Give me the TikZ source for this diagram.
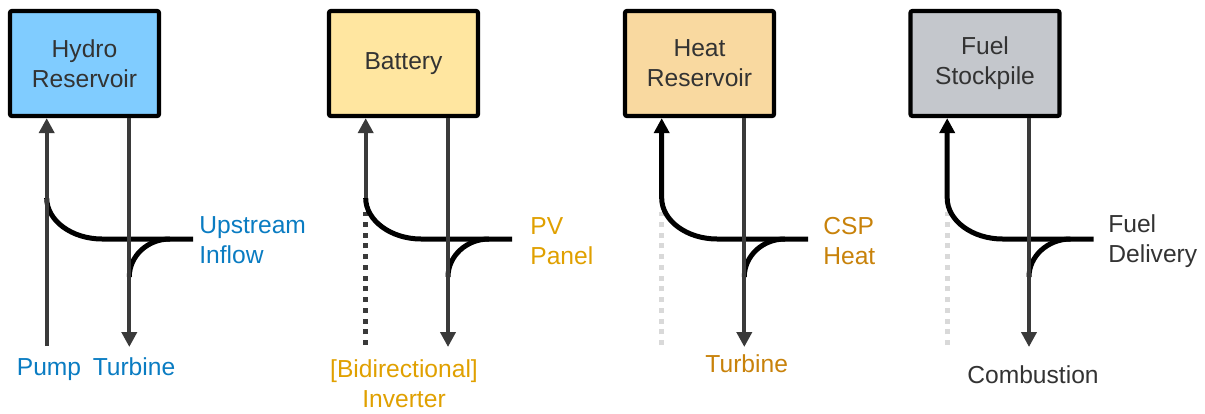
\documentclass[tikz,border=0pt]{standalone}
\usepackage{fontspec}
\setmainfont{Liberation Sans}
\usetikzlibrary{arrows.meta, positioning}
\definecolor{hydroblue}{RGB}{128,204,255}
\definecolor{battyellow}{RGB}{255,230,160}
\definecolor{heatorange}{RGB}{249,217,160}
\definecolor{fuelgray}{RGB}{196,199,204}
\definecolor{flowgray}{RGB}{58,58,58}
\definecolor{dotgray}{RGB}{217,217,217}
\definecolor{hydrotext}{RGB}{10,124,194}
\definecolor{pvtext}{RGB}{224,160,0}
\definecolor{csptext}{RGB}{200,130,10}
\definecolor{darktext}{RGB}{51,51,51}

\begin{document}
\begin{tikzpicture}[
    x=0.02cm, y=-0.02cm,
    store/.style={rectangle, draw=black, line width=0.085cm, rounded corners=0.04cm,
                minimum width=2.98cm, minimum height=2.1cm, align=center,
                font=\fontsize{14}{17}\selectfont, text=darktext},
    flow/.style={-{Triangle[length=0.3cm, width=0.3cm]}, line width=0.08cm, flowgray},
    blackflow/.style={-{Triangle[length=0.3cm, width=0.3cm]}, line width=0.1cm, black},
    merge/.style={line width=0.1cm, black},
    offline/.style={line width=0.1cm, dash pattern=on 0.1cm off 0.115cm},
    sidelabel/.style={anchor=west, align=left, inner sep=0pt, font=\fontsize{14}{17}\selectfont},
    flowlabel/.style={anchor=base, align=center, inner sep=0pt, font=\fontsize{14}{17}\selectfont}
]
\useasboundingbox (0,0) rectangle (1205,413);

% hydro
\node[store, fill=hydroblue] (hydro) at (84.5,63.5) {Hydro\\Reservoir};
\coordinate (hydro-pump) at (46.7,346);
\coordinate (hydro-split) at (46.7,198);
\coordinate (hydro-join) at (129.3,277);
\coordinate (hydro-inflow) at (193,239);
\coordinate (hydro-turbine) at (129.3,347);
\draw[merge] (hydro-split) .. controls (46.7,220.5) and (71.7,239) .. (102,239) -- (hydro-inflow);
\draw[merge] (170,239) .. controls (147.5,239) and (129.3,256) .. (hydro-join);
\draw[flow] (hydro-pump) -- (hydro-pump |- hydro.south);
\draw[flow] (hydro-turbine |- hydro.south) -- (hydro-turbine);
\node[sidelabel, text=hydrotext] (inflow) at (199,240) {Upstream\\Inflow};
\node[flowlabel, text=hydrotext] (pump) at (49,375) {Pump};
\node[flowlabel, text=hydrotext] (turbine) at (134,375) {Turbine};

% battery
\node[store, fill=battyellow] (battery) at (403.5,63.5) {Battery};
\coordinate (battery-inv) at (365.7,345);
\coordinate (battery-split) at (365.7,198);
\coordinate (battery-join) at (448,277);
\coordinate (battery-pv) at (512,239);
\coordinate (battery-out) at (448,347);
\draw[offline, flowgray] (battery-inv) -- (365.7,212);
\draw[merge] (battery-split) .. controls (365.7,220.5) and (391,239) .. (421,239) -- (battery-pv);
\draw[merge] (489,239) .. controls (466.5,239) and (448,256) .. (battery-join);
\draw[flow] (battery-split) -- (battery-split |- battery.south);
\draw[flow] (battery-out |- battery.south) -- (battery-out);
\node[sidelabel, text=pvtext] (pv) at (530,241) {PV\\Panel};
\node[align=center, inner sep=0pt, font=\fontsize{14}{17}\selectfont, text=pvtext] (inverter) at (404,384) {[Bidirectional]\\Inverter};

% heat
\node[store, fill=heatorange] (heat) at (699.5,63.5) {Heat\\Reservoir};
\coordinate (heat-idle) at (661.7,345);
\coordinate (heat-split) at (661.7,198);
\coordinate (heat-join) at (744.3,277);
\coordinate (heat-csp) at (808,239);
\coordinate (heat-turbine) at (744.3,347);
\draw[offline, dotgray] (heat-idle) -- (661.7,212);
\draw[blackflow] (heat-csp) -- (717,239) .. controls (686.7,239) and (661.7,220.5) .. (heat-split) -- (heat-split |- heat.south);
\draw[merge] (785,239) .. controls (762.5,239) and (744.3,256) .. (heat-join);
\draw[flow] (heat-turbine |- heat.south) -- (heat-turbine);
\node[sidelabel, text=csptext] (csp) at (823,241) {CSP\\Heat};
\node[flowlabel, text=csptext] (steam) at (746.7,372) {Turbine};

% fuel
\node[store, fill=fuelgray] (fuel) at (985,63.5) {Fuel\\Stockpile};
\coordinate (fuel-idle) at (947.2,345);
\coordinate (fuel-split) at (947.2,198);
\coordinate (fuel-join) at (1029,277);
\coordinate (fuel-delivery) at (1093.5,239);
\coordinate (fuel-burn) at (1029,347);
\draw[offline, dotgray] (fuel-idle) -- (947.2,212);
\draw[blackflow] (fuel-delivery) -- (1002.5,239) .. controls (972.2,239) and (947.2,220.5) .. (fuel-split) -- (fuel-split |- fuel.south);
\draw[merge] (1070.5,239) .. controls (1048,239) and (1029,256) .. (fuel-join);
\draw[flow] (fuel-burn |- fuel.south) -- (fuel-burn);
\node[sidelabel, text=darktext] (delivery) at (1108,241) {Fuel\\Delivery};
\node[flowlabel, text=darktext] (combustion) at (1033,383) {Combustion};
\end{tikzpicture}
\end{document}
